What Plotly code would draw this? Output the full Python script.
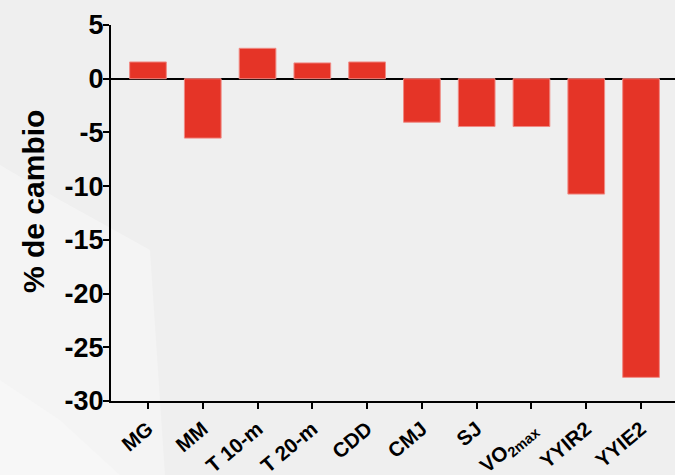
import plotly.graph_objects as go

categories = ["MG", "MM", "T 10-m", "T 20-m", "CDD", "CMJ", "SJ", "VO<sub>2max</sub>", "YYIR2", "YYIE2"]
values = [1.56, -5.53, 2.83, 1.47, 1.56, -4.05, -4.45, -4.45, -10.74, -27.8]
y_ticks = [5, 0, -5, -10, -15, -20, -25, -30]

W, H = 675, 475
L, R, T, B = 111, 0, 25, 74
pw, ph = W - L - R, H - T - B

def px(x):
    return (x - L) / pw

def py(y):
    return (H - B - y) / ph

font_family = "Liberation Sans, Arial, sans-serif"

fig = go.Figure()
fig.add_trace(go.Bar(
    x=list(range(len(categories))),
    y=values,
    width=0.67,
    marker=dict(color="#e53427", line=dict(color="#f08a84", width=1)),
    hoverinfo="y",
))

# light background shapes (decor)
def poly(points, color):
    path = "M " + " L ".join(f"{px(a):.4f},{py(b):.4f}" for a, b in points) + " Z"
    fig.add_shape(type="path", path=path, xref="paper", yref="paper",
                  fillcolor=color, line=dict(width=0), layer="below")

poly([(0, 165), (60, 200), (150, 250), (165, 475), (0, 475)], "#f4f4f4")
poly([(0, 380), (60, 420), (120, 475), (0, 475)], "#f7f7f7")

fig.update_layout(
    width=W, height=H,
    margin=dict(l=L, r=R, t=T, b=B, pad=0),
    paper_bgcolor="#efefef",
    plot_bgcolor="rgba(0,0,0,0)",
    showlegend=False,
    xaxis=dict(
        range=[-0.675, 9.62],
        automargin=False,
        tickmode="array",
        tickvals=list(range(len(categories))),
        ticktext=categories,
        tickangle=-40,
        tickfont=dict(family=font_family, size=20.5, color="black", weight="bold"),
        showline=True, linecolor="black", linewidth=2,
        ticks="outside", ticklen=6, tickwidth=2, tickcolor="black",
        showgrid=False, zeroline=False,
    ),
    yaxis=dict(
        range=[-30, 5],
        automargin=False,
        tickmode="array",
        tickvals=y_ticks,
        ticktext=[str(v) for v in y_ticks],
        tickfont=dict(family=font_family, size=27, color="black", weight="bold"),
        ticklabelstandoff=-6,
        showline=True, linecolor="black", linewidth=2,
        ticks="outside", ticklen=6, tickwidth=2, tickcolor="black",
        showgrid=False,
        zeroline=True, zerolinecolor="black", zerolinewidth=1.5,
    ),
    annotations=[dict(
        text="% de cambio", textangle=-90,
        xref="paper", yref="paper",
        x=px(33), y=py(202),
        xanchor="center", yanchor="middle",
        showarrow=False,
        font=dict(family=font_family, size=30, color="black", weight="bold"),
    )],
)

fig.write_html("out.html", config={"displayModeBar": False},
               post_script="document.body.style.margin='0';document.body.style.overflow='hidden';")
